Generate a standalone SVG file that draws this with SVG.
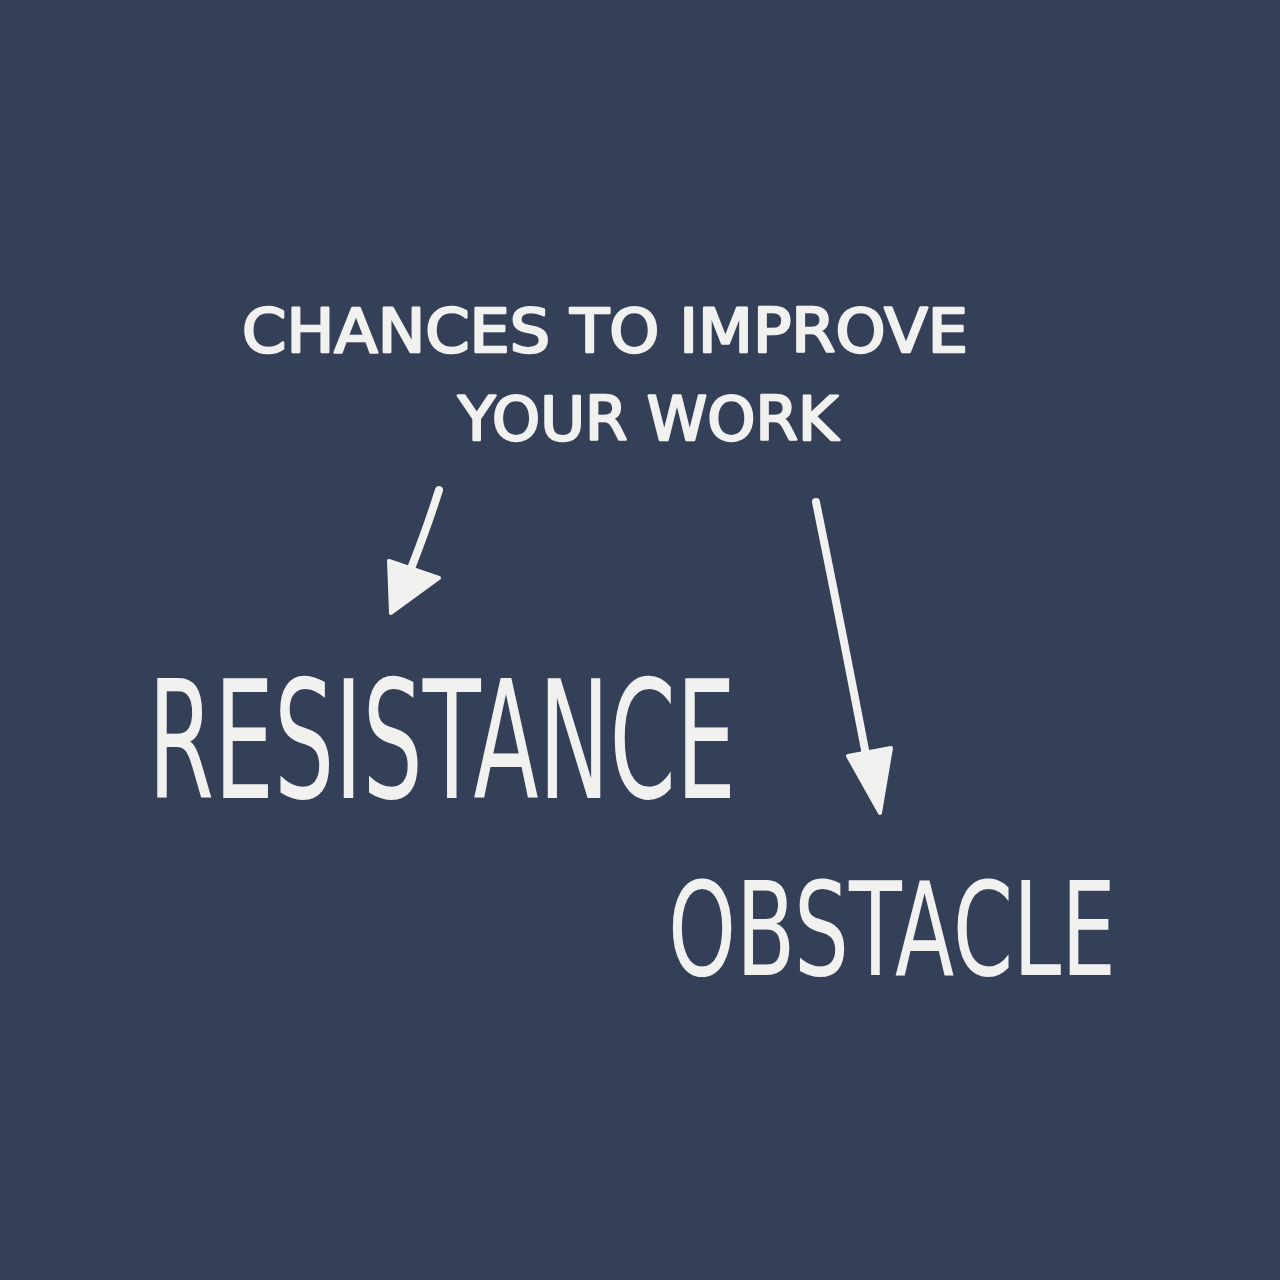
<svg xmlns="http://www.w3.org/2000/svg" width="1280" height="1280" viewBox="0 0 1280 1280">
<style>
.t{fill:#f1f1f0;font-family:"DejaVu Sans",sans-serif;}
.s{font-size:60px;font-weight:normal;stroke:#f1f1f0;stroke-width:2.5;stroke-linejoin:round;}
.b{font-weight:normal;}
.c{fill:none;stroke:#f1f1f0;stroke-linecap:round;stroke-linejoin:round;}
.h{fill:#f1f1f0;stroke:#f1f1f0;stroke-width:4;stroke-linejoin:round;}
</style>
<rect width="1280" height="1280" fill="#343f58"/>
<g id="source">
<text class="t s" x="242" y="352" textLength="726" lengthAdjust="spacingAndGlyphs">CHANCES TO IMPROVE</text>
<text class="t s" x="458" y="440" textLength="380" lengthAdjust="spacingAndGlyphs">YOUR WORK</text>
</g>
<g id="resistance" transform="translate(148,798) scale(1,1.75)">
<text class="t b" x="0" y="0" font-size="94" textLength="588" lengthAdjust="spacingAndGlyphs">RESISTANCE</text>
</g>
<g id="obstacle" transform="translate(668,975) scale(1,1.6)">
<text class="t b" x="0" y="0" font-size="81" textLength="448" lengthAdjust="spacingAndGlyphs">OBSTACLE</text>
</g>
<g id="connectors">
<path class="c" d="M439 490 Q428 525 412 566" stroke-width="8"/>
<polygon class="h" points="389,561 439,578 391,613"/>
<path class="c" d="M816 502 Q840 620 866 755" stroke-width="8"/>
<polygon class="h" points="848,756 891,748 880,813"/>
</g>
</svg>
